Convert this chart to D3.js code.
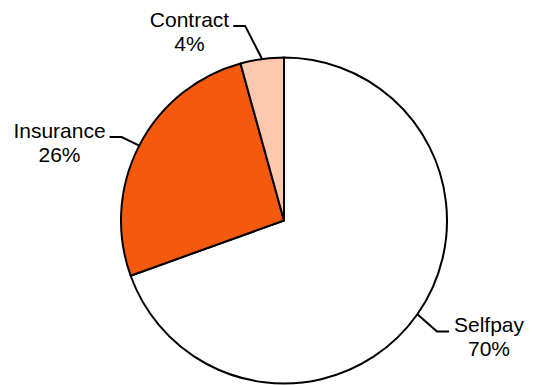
<!DOCTYPE html>
<html>
<head>
<meta charset="utf-8">
<script src="https://cdn.jsdelivr.net/npm/d3@7"></script>
<style>
  html, body { margin: 0; padding: 0; background: #fff; }
  svg { display: block; font-family: "Liberation Sans", Arial, sans-serif; }
</style>
</head>
<body>
<div id="chart"></div>
<script>
// Pie chart - payment type share

const categories = ["Selfpay", "Insurance", "Contract"];
const values = [69.5, 26.2, 4.3];
const percentLabels = ["70%", "26%", "4%"];
const colors = ["#ffffff", "#f4590d", "#fdc8ae"];

let [w, h] = [534, 385];
let [cx, cy, radius] = [284, 220.5, 163];

// text centre (first baseline) relative to the pie centre
const labelSpots = {
  Selfpay: [205, 111.5],
  Insurance: [-224.5, -83],
  Contract: [-94.5, -194]
};

const svg = d3.select("#chart").
  append("svg").
  attr("width", w).
  attr("height", h);

const g = svg.append("g").
  attr("transform", `translate(${cx},${cy})`);

const dataset = categories.map((c, i) => ({ name: c, value: values[i], pct: percentLabels[i], color: colors[i] }));

const pie = d3.pie().
  value(d => d.value).
  sort(null);

const arc = d3.arc().
  innerRadius(0).
  outerRadius(radius);

const arcs = pie(dataset);

g.selectAll("path.slice").
  data(arcs).
  enter().
  append("path").
  attr("class", "slice").
  attr("d", arc).
  attr("fill", d => d.data.color).
  attr("stroke", "#000").
  attr("stroke-width", 2).
  attr("stroke-linejoin", "round");

// Labels with leader lines
arcs.forEach(a => {
  let [tx, ty] = labelSpots[a.data.name];
  let txt = g.append("text").
    attr("text-anchor", "middle").
    attr("font-size", 21).
    attr("fill", "#000");
  txt.append("tspan").attr("x", tx).attr("y", ty).text(a.data.name);
  txt.append("tspan").attr("x", tx).attr("y", ty + 24).text(a.data.pct);

  let firstWidth = txt.select("tspan").node().getComputedTextLength();
  let mid = (a.startAngle + a.endAngle) / 2;
  let px = radius * Math.sin(mid);
  let py = -radius * Math.cos(mid);
  let onLeft = tx < px;
  let startX = onLeft ? tx + firstWidth / 2 + 4 : tx - firstWidth / 2 - 5;
  let elbowX = onLeft ? startX + 12 : startX - 12;
  let lineY = ty - 0.5;

  g.append("polyline").
    attr("points", `${startX},${lineY} ${elbowX},${lineY} ${px},${py}`).
    attr("fill", "none").
    attr("stroke", "#000").
    attr("stroke-width", 2);
});
</script>
</body>
</html>
